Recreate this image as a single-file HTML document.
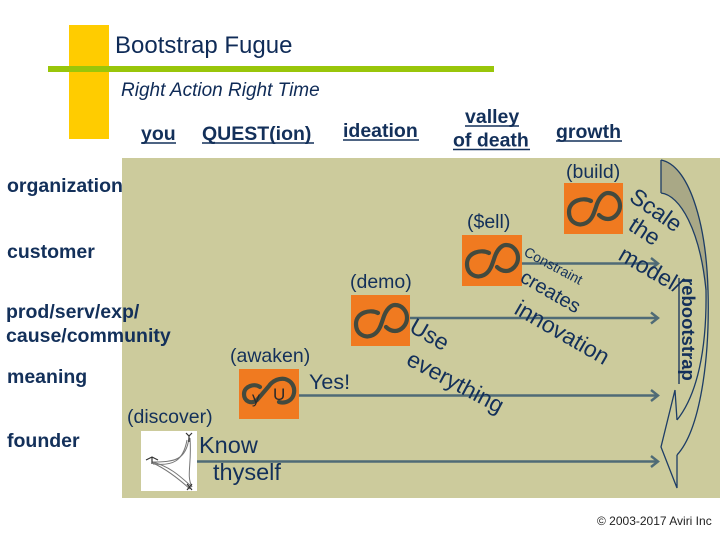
<!DOCTYPE html>
<html><head><meta charset="utf-8"><style>
html,body{margin:0;padding:0;background:#fff;width:720px;height:540px;overflow:hidden}
svg{display:block}
text{font-family:"Liberation Sans",Arial,sans-serif;fill:#13305a}
.b{font-weight:bold;font-size:19.5px}
.n{font-size:19.5px}
</style></head><body>
<svg width="720" height="540" viewBox="0 0 720 540" xmlns="http://www.w3.org/2000/svg">
<!-- header decorations -->
<rect x="69" y="25" width="40" height="114" fill="#ffcc00"/>
<rect x="48" y="66" width="446" height="6" fill="#99c60a"/>
<text x="115" y="53" style="font-size:24px;fill:#0f2b57">Bootstrap Fugue</text>
<text x="121" y="96" style="font-size:19px;font-style:italic;fill:#0f2b57">Right Action Right Time</text>

<!-- panel -->
<rect x="122" y="158" width="598" height="340" fill="#cccb9c"/>

<!-- column headers -->
<text x="141" y="140" class="b">you</text>
<text x="202" y="140" class="b">QUEST(ion)</text>
<text x="343" y="137" class="b">ideation</text>
<text x="465" y="123" class="b">valley</text>
<text x="453" y="146.5" class="b">of death</text>
<text x="556" y="138" class="b">growth</text>
<g stroke="#13305a" stroke-width="1.4">
<line x1="141" y1="143" x2="176" y2="143"/>
<line x1="202" y1="143" x2="314" y2="143"/>
<line x1="343" y1="140" x2="419" y2="140"/>
<line x1="465" y1="126" x2="519" y2="126"/>
<line x1="453" y1="149.5" x2="530" y2="149.5"/>
<line x1="556" y1="141" x2="622" y2="141"/>
</g>

<!-- row labels -->
<text x="7" y="192" class="b">organization</text>
<text x="7" y="258" class="b">customer</text>
<text x="6" y="318" class="b">prod/serv/exp/</text>
<text x="6" y="342" class="b">cause/community</text>
<text x="7" y="383" class="b">meaning</text>
<text x="7" y="447" class="b">founder</text>

<!-- horizontal arrows -->
<g stroke="#4f6b76" stroke-width="2.4" fill="none">
<line x1="196" y1="461.5" x2="658" y2="461.5"/>
<polyline points="651,456 658,461.5 651,467"/>
<line x1="299" y1="395.5" x2="658" y2="395.5"/>
<polyline points="651,390 658,395.5 651,401"/>
<line x1="410" y1="318" x2="658" y2="318"/>
<polyline points="651,312.5 658,318 651,323.5"/>
<line x1="521" y1="263.5" x2="658" y2="263.5"/>
<polyline points="651,258 658,263.5 651,269"/>
</g>

<!-- curved arrow -->
<path d="M661,160 C688,165 706,220 708,290 L706,290 C700,230 680,195 661,193 Z" fill="#a9a886"/>
<g fill="none" stroke="#1d3d66" stroke-width="1.3">
<path d="M661,160 L661,193"/>
<path d="M661,160 C688,165 706,220 708,290 C710,360 700,430 677,455"/>
<path d="M661,193 C680,195 700,230 706,290 C707,350 697,395 677,420"/>
<path d="M677,420 L675,390 L661,447 L677,488 L677,455"/>
</g>

<!-- discover image -->
<rect x="141" y="431" width="56" height="60" fill="#fff"/>
<g fill="none" stroke="#777" stroke-width="1">
<path d="M189,438 C186,460 175,462 152,462"/>
<path d="M190,438 C192,465 186,475 192,487"/>
<path d="M152,462 C170,466 182,478 192,487"/>
<path d="M187,440 C183,462 172,466 153,464"/>
<path d="M153,463 C168,470 180,480 190,489"/>
</g>
<g fill="none" stroke="#333" stroke-width="1.2">
<path d="M186,433 l3,3 l3,-3 M189,436 l0,6"/>
<path d="M146,460 l6,-3 l6,3 M152,457 l0,7"/>
<path d="M187,484 l5,6 M192,484 l-5,6"/>
</g>

<!-- orange boxes -->
<rect x="239" y="369" width="60" height="50" fill="#f07a20"/>
<rect x="351" y="295" width="59" height="51" fill="#f07a20"/>
<rect x="462" y="235" width="60" height="51" fill="#f07a20"/>
<rect x="564" y="183" width="59" height="51" fill="#f07a20"/>

<!-- infinity logos -->
<g fill="none" stroke="#434a3e" stroke-width="4.2" stroke-linecap="round">
<path transform="translate(351,295)" d="M27,18 C20,14 5,17 5,29 C5,39 14,44 22,40 C28,37 30,30 32,24 C35,14 40,10 44,10 C51,10 56,16 56,23 C56,30 50,36 44,36 C40,36 37,34 35,32"/>
<path transform="translate(462,235)" d="M27,18 C20,14 5,17 5,29 C5,39 14,44 22,40 C28,37 30,30 32,24 C35,14 40,10 44,10 C51,10 56,16 56,23 C56,30 50,36 44,36 C40,36 37,34 35,32"/>
<path transform="translate(564,183)" d="M27,18 C20,14 5,17 5,29 C5,39 14,44 22,40 C28,37 30,30 32,24 C35,14 40,10 44,10 C51,10 56,16 56,23 C56,30 50,36 44,36 C40,36 37,34 35,32"/>
<path transform="translate(239,369)" d="M21,18 C16,14 5,17 5,25 C5,32 12,36 18,31 L30,17 C34,11 41,9 46,10 C53,12 56,18 55,24 C54,31 47,35 40,33"/>
</g>
<text x="252" y="403" style="font-size:16px;fill:#2a2a2a">y</text>
<text x="273" y="400" style="font-size:17px;fill:#2a2a2a">U</text>

<!-- labels -->
<text x="127" y="423" class="n">(discover)</text>
<text x="230" y="362" class="n">(awaken)</text>
<text x="350" y="288" class="n">(demo)</text>
<text x="467" y="228" class="n">($ell)</text>
<text x="566" y="178" class="n">(build)</text>

<text x="199" y="453" style="font-size:23.5px">Know</text>
<text x="213" y="480" style="font-size:23.5px">thyself</text>
<text x="309" y="389" style="font-size:21.5px">Yes!</text>

<!-- rotated texts -->
<text transform="translate(408,331) rotate(30)" style="font-size:23px">Use</text>
<text transform="translate(405,364) rotate(28)" style="font-size:23px">everything</text>
<text transform="translate(523,255) rotate(28)" style="font-size:14px">Constraint</text>
<text transform="translate(519,281) rotate(30)" style="font-size:20px">creates</text>
<text transform="translate(513,313) rotate(30)" style="font-size:23px">innovation</text>
<text transform="translate(628,200) rotate(35)" style="font-size:23px">Scale</text>
<text transform="translate(627,229) rotate(33)" style="font-size:23px">the</text>
<text transform="translate(617,259) rotate(30)" style="font-size:23px">model/</text>

<!-- rebootstrap -->
<text transform="translate(682,278) rotate(90)" style="font-size:18.5px;font-weight:bold">rebootstrap</text>
<line x1="679" y1="278" x2="679" y2="384" stroke="#13305a" stroke-width="1.3"/>

<text x="597" y="525" style="font-size:12px;fill:#222">© 2003-2017 Aviri Inc</text>
</svg>
</body></html>
